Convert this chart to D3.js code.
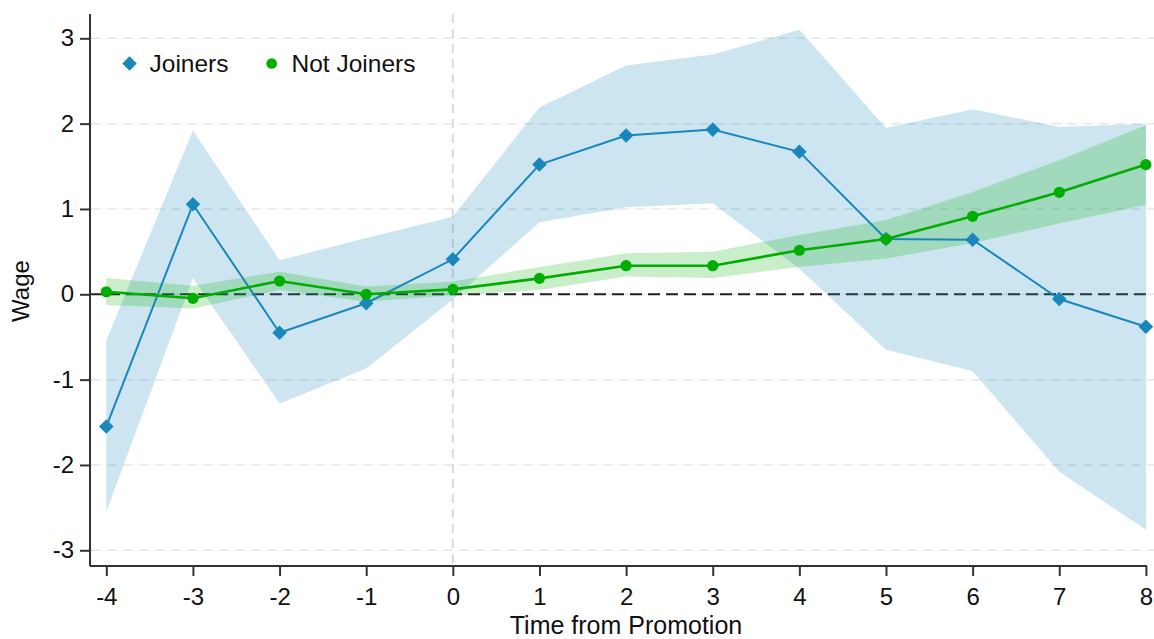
<!DOCTYPE html>
<html>
<head>
<meta charset="utf-8">
<script src="https://cdn.jsdelivr.net/npm/d3@7"></script>
<style>
  html, body { margin: 0; padding: 0; background: #fff; }
  svg { display: block; font-family: "Liberation Sans", Arial, sans-serif; }
</style>
</head>
<body>
<svg id="chart" width="1154" height="639"></svg>
<script>
// Event time relative to promotion
const periods = [-4, -3, -2, -1, 0, 1, 2, 3, 4, 5, 6, 7, 8];

// Joiners: point estimates and confidence bounds
const joinersEst   = [-1.55, 1.055, -0.45, -0.105, 0.41, 1.52, 1.86, 1.93, 1.67, 0.648, 0.64, -0.055, -0.38];
const joinersUpper = [-0.54, 1.92, 0.40, 0.66, 0.91, 2.19, 2.68, 2.81, 3.10, 1.95, 2.17, 1.96, 2.00];
const joinersLower = [-2.55, 0.19, -1.28, -0.87, -0.06, 0.845, 1.02, 1.066, 0.30, -0.65, -0.90, -2.08, -2.76];

// Not joiners: point estimates and confidence bounds
const notJoinersEst   = [0.03, -0.047, 0.156, 0.0, 0.058, 0.187, 0.335, 0.335, 0.516, 0.648, 0.914, 1.195, 1.52];
const notJoinersUpper = [0.19, 0.10, 0.265, 0.09, 0.15, 0.32, 0.48, 0.50, 0.695, 0.87, 1.20, 1.57, 1.98];
const notJoinersLower = [-0.125, -0.165, 0.05, -0.087, -0.01, 0.05, 0.21, 0.19, 0.32, 0.42, 0.60, 0.83, 1.05];

const yTicks = [-3, -2, -1, 0, 1, 2, 3];
const xTicks = periods;

const seriesNames = ["Joiners", "Not Joiners"];
const blue = "#1a87bc";
const green = "#00ad00";
const fontFamily = "Liberation Sans, Arial, sans-serif";

const svg = d3.select("#chart");

const plotLeft = 90, plotRight = 1154, plotTop = 14, plotBottom = 566;

const x = d3.scaleLinear().domain([-4, 8]).range([106.3, 1145.9]);
const y = d3.scaleLinear().domain([0, 1]).range([294.3, 208.97]);

// Grid lines
svg.append("g").selectAll("line").data(yTicks).join("line")
  .attr("x1", plotLeft + 1).attr("x2", plotRight)
  .attr("y1", d => y(d)).attr("y2", d => y(d))
  .attr("stroke", "#e6e6e6").attr("stroke-width", 1.5)
  .attr("stroke-dasharray", "10,6");

// Reference lines
svg.append("line")
  .attr("x1", x(0)).attr("x2", x(0)).attr("y1", plotTop).attr("y2", plotBottom)
  .attr("stroke", "#dadada").attr("stroke-width", 2)
  .attr("stroke-dasharray", "9,6");

svg.append("line")
  .attr("x1", plotLeft).attr("x2", x(8)).attr("y1", y(0)).attr("y2", y(0))
  .attr("stroke", "#222").attr("stroke-width", 2)
  .attr("stroke-dasharray", "12,6");

// Confidence bands
const band = (lo, hi) => d3.area()
  .x((d, i) => x(periods[i]))
  .y0((d, i) => y(lo[i]))
  .y1((d, i) => y(hi[i]))(periods);

svg.append("path").attr("d", band(joinersLower, joinersUpper))
  .attr("fill", blue).attr("fill-opacity", 0.22);
svg.append("path").attr("d", band(notJoinersLower, notJoinersUpper))
  .attr("fill", green).attr("fill-opacity", 0.21);

// Connected lines
const line = d3.line().x((d, i) => x(periods[i])).y(d => y(d));

svg.append("path").attr("d", line(joinersEst))
  .attr("fill", "none").attr("stroke", blue).attr("stroke-width", 2);
const diamond = d3.symbol().type(d3.symbolDiamond2).size(135);
svg.append("g").selectAll("path").data(joinersEst).join("path")
  .attr("d", diamond)
  .attr("transform", (d, i) => `translate(${x(periods[i])},${y(d)})`)
  .attr("fill", blue);

svg.append("path").attr("d", line(notJoinersEst))
  .attr("fill", "none").attr("stroke", green).attr("stroke-width", 2.6);
svg.append("g").selectAll("circle").data(notJoinersEst).join("circle")
  .attr("cx", (d, i) => x(periods[i])).attr("cy", d => y(d))
  .attr("r", 5.6).attr("fill", green);

// Axes
const fmt = d => String(d);
const yAxis = d3.axisLeft(y).tickValues(yTicks).tickSize(10).tickPadding(6).tickFormat(fmt);
const gy = svg.append("g").attr("transform", `translate(${plotLeft},0)`).call(yAxis);
gy.select(".domain").attr("d", `M-0,${plotTop}V${plotBottom}`).attr("stroke", "#333").attr("stroke-width", 2);
gy.selectAll(".tick line").attr("stroke", "#333").attr("stroke-width", 2);
gy.selectAll(".tick text").attr("font-size", 24).attr("fill", "#111")
  .attr("font-family", fontFamily);

const xAxis = d3.axisBottom(x).tickValues(xTicks).tickSize(10).tickPadding(12).tickFormat(fmt);
const gx = svg.append("g").attr("transform", `translate(0,${plotBottom})`).call(xAxis);
gx.select(".domain").attr("d", `M${plotLeft},0H${x(8) + 1}`).attr("stroke", "#333").attr("stroke-width", 2);
gx.selectAll(".tick line").attr("stroke", "#333").attr("stroke-width", 2);
gx.selectAll(".tick text").attr("font-size", 24).attr("fill", "#111")
  .attr("font-family", fontFamily);

// Axis titles
svg.append("text")
  .attr("x", 626).attr("y", 633.5)
  .attr("text-anchor", "middle").attr("font-size", 25).attr("fill", "#111")
  .text("Time from Promotion");

svg.append("text")
  .attr("transform", "translate(29,291) rotate(-90)")
  .attr("text-anchor", "middle").attr("font-size", 24).attr("fill", "#111")
  .text("Wage");

// Legend
const legend = svg.append("g");
legend.append("path").attr("d", diamond)
  .attr("transform", "translate(129.5,63.5)").attr("fill", blue);
legend.append("text").attr("x", 149.5).attr("y", 72.3)
  .attr("font-size", 24.5).attr("fill", "#111").text(seriesNames[0]);
legend.append("circle").attr("cx", 271.7).attr("cy", 63.5).attr("r", 5.3).attr("fill", green);
legend.append("text").attr("x", 291.5).attr("y", 72.3)
  .attr("font-size", 24.5).attr("fill", "#111").text(seriesNames[1]);
</script>
</body>
</html>
